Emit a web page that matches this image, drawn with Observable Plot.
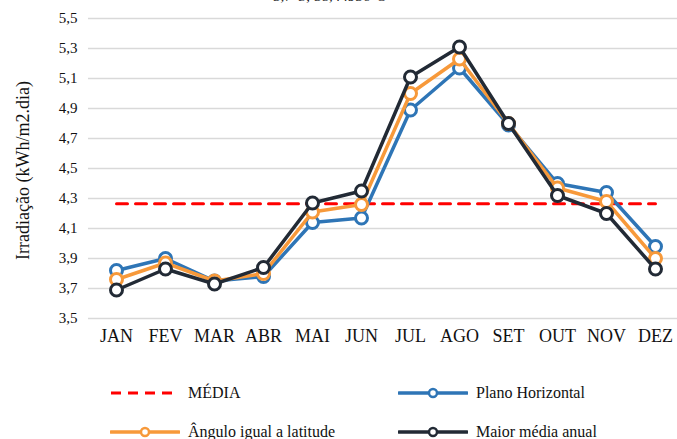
<!DOCTYPE html>
<html>
<head>
<meta charset="utf-8">
<script src="https://cdn.jsdelivr.net/npm/d3@7"></script>
<script src="https://cdn.jsdelivr.net/npm/@observablehq/plot@0.6"></script>
<style>
  body { margin: 0; background: #fff; font-family: "Liberation Serif", "Times New Roman", "DejaVu Serif", serif; }
  #wrap { position: relative; width: 677px; height: 439px; overflow: hidden; }
  #title { position: absolute; top: -12px; left: 0; width: 660px; text-align: center; font-size: 15px; color: #222; }
  #chart { position: absolute; top: 0; left: 0; }
  .leg { position: absolute; display: flex; align-items: center; font-size: 16px; color: #111; }
  .leg svg { margin-right: 8px; }
</style>
</head>
<body>
<div id="wrap">
  <div id="chart"></div>
  <div id="title">3,7°S; 38,44936°O</div>
  <div id="legend"></div>
</div>
<script>
const months = ["JAN","FEV","MAR","ABR","MAI","JUN","JUL","AGO","SET","OUT","NOV","DEZ"];
const planoHorizontal = [3.82, 3.90, 3.75, 3.78, 4.14, 4.17, 4.89, 5.17, 4.79, 4.40, 4.34, 3.98];
const anguloLatitude  = [3.76, 3.87, 3.75, 3.80, 4.21, 4.26, 5.00, 5.23, 4.80, 4.37, 4.28, 3.90];
const maiorMediaAnual = [3.69, 3.83, 3.73, 3.84, 4.27, 4.35, 5.11, 5.31, 4.80, 4.32, 4.20, 3.83];
const media = 4.265;
const yTicks = [3.5, 3.7, 3.9, 4.1, 4.3, 4.5, 4.7, 4.9, 5.1, 5.3, 5.5];

const seriesNames = ["Plano Horizontal", "Ângulo igual a latitude", "Maior média anual"];
const seriesValues = [planoHorizontal, anguloLatitude, maiorMediaAnual];
const seriesColors = ["#2E75B6", "#F7993A", "#222A35"];
const mediaColor = "#FF0000";
const serif = "'Liberation Serif', 'Times New Roman', 'DejaVu Serif', serif";

const rows = seriesValues.map((vals, i) => months.map((m, j) => ({month: m, value: vals[j], series: seriesNames[i]})));
const mediaRows = months.map(m => ({month: m, value: media}));

const marks = [
  Plot.ruleY(yTicks, {stroke: "#d9d9d9", strokeWidth: 1.5}),
  Plot.axisY(yTicks, {tickSize: 0, tickPadding: 11, fontSize: 15, fontFamily: serif, tickFormat: d => d.toFixed(1).replace(".", ","), label: null}),
  Plot.axisX({tickSize: 0, tickPadding: 11, fontSize: 18, fontFamily: serif, label: null}),
  Plot.line(mediaRows, {x: "month", y: "value", stroke: mediaColor, strokeWidth: 3, strokeDasharray: "11,8"})
];
rows.forEach((r, i) => {
  marks.push(Plot.line(r, {x: "month", y: "value", stroke: seriesColors[i], strokeWidth: 3.5}));
  marks.push(Plot.dot(r, {x: "month", y: "value", r: 6, stroke: seriesColors[i], strokeWidth: 3, fill: "white"}));
});
marks.push(Plot.text(["Irradiação (kWh/m2.dia)"], {frameAnchor: "left", textAnchor: "middle", dx: -65, dy: 2, rotate: -90, fontSize: 18, fontFamily: serif, fill: "#111"}));

const chart = Plot.plot({
  width: 677,
  height: 350,
  marginTop: 18,
  marginBottom: 32,
  marginLeft: 88,
  marginRight: 0,
  style: {fontFamily: serif, fontSize: "15px", color: "#111", background: "white", overflow: "visible"},
  x: {type: "point", domain: months, range: [113, 658], padding: 0},
  y: {domain: [3.5, 5.5]},
  marks
});
document.getElementById("chart").appendChild(chart);

// Legend
const legendItems = [
  {label: "MÉDIA", color: mediaColor, dashed: true, left: 110, top: 393},
  {label: seriesNames[0], color: seriesColors[0], dashed: false, left: 398, top: 393},
  {label: seriesNames[1], color: seriesColors[1], dashed: false, left: 110, top: 432},
  {label: seriesNames[2], color: seriesColors[2], dashed: false, left: 398, top: 432}
];
const legend = document.getElementById("legend");
legendItems.forEach(it => {
  const div = document.createElement("div");
  div.className = "leg";
  div.style.left = it.left + "px";
  div.style.top = (it.top - 11) + "px";
  const sw = it.dashed
    ? `<svg width="70" height="22"><line x1="1" y1="11" x2="69" y2="11" stroke="${it.color}" stroke-width="3" stroke-dasharray="10,7"/></svg>`
    : `<svg width="70" height="22"><line x1="1" y1="11" x2="69" y2="11" stroke="${it.color}" stroke-width="3.5" stroke-linecap="round"/><circle cx="35" cy="11" r="4" fill="white" stroke="${it.color}" stroke-width="2.5"/></svg>`;
  div.innerHTML = sw + `<span>${it.label}</span>`;
  legend.appendChild(div);
});
</script>
</body>
</html>
